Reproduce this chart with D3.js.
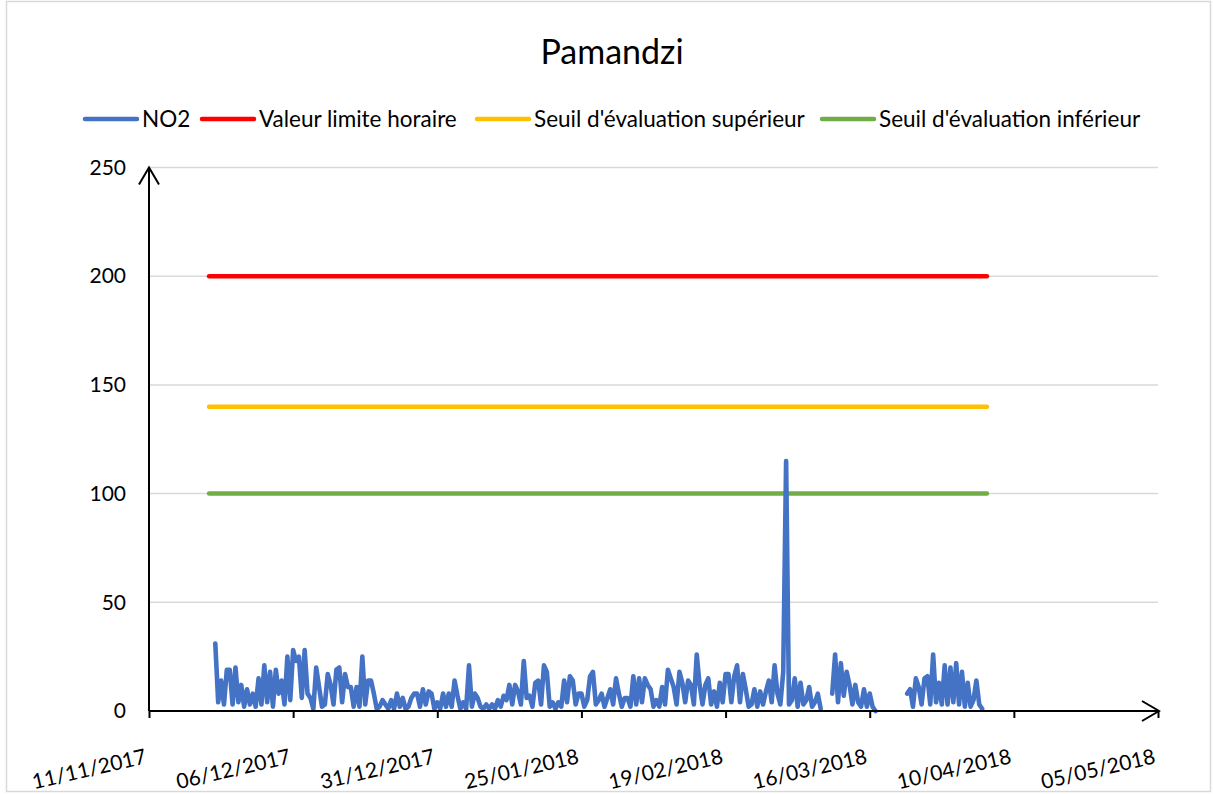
<!DOCTYPE html>
<html>
<head>
<meta charset="utf-8">
<script src="https://cdn.jsdelivr.net/npm/d3@7"></script>
<style>
  body { margin: 0; background: #fff; }
  svg text { font-family: Lato, "Open Sans", sans-serif; fill: #000; }
</style>
</head>
<body>
<svg id="chart" width="1213" height="794"></svg>
<script>

// chart data
var chartTitle = "Pamandzi";
var seriesNames = ["NO2", "Valeur limite horaire", "Seuil d'évaluation supérieur", "Seuil d'évaluation inférieur"];
var thresholdValues = [200, 140, 100];
var thresholdPeriod = ["2017-11-21T10:00", "2018-04-05T08:00"];
var xTickLabels = ["11/11/2017", "06/12/2017", "31/12/2017", "25/01/2018", "19/02/2018", "16/03/2018", "10/04/2018", "05/05/2018"];
var yTickValues = [0, 50, 100, 150, 200, 250];

// NO2 readings, one every 12 hours from the start date (null = no measurement)
var no2Start = "2017-11-22T12:00";
var no2StepHours = 12;
var no2Values = [
  31, 4, 14, 3, 19, 19, 3, 20, 4, 12,
  2, 10, 3, 8, 2, 15, 3, 21, 4, 18,
  2, 19, 8, 14, 3, 25, 5, 28, 23, 25,
  6, 28, 8, 6, 1, 20, 11, 2, 3, 17,
  12, 3, 19, 20, 4, 17, 11, 11, 2, 11,
  2, 25, 3, 14, 14, 8, 1, 2, 5, 3,
  1, 5, 1, 8, 2, 6, 1, 2, 6, 8,
  8, 2, 10, 3, 9, 8, 1, 4, 1, 8,
  2, 8, 2, 14, 7, 1, 4, 1, 21, 2,
  8, 6, 2, 1, 3, 1, 3, 1, 5, 2,
  7, 5, 12, 3, 12, 9, 3, 23, 6, 7,
  2, 13, 14, 3, 21, 18, 2, 4, 1, 4,
  2, 14, 4, 16, 14, 3, 8, 8, 2, 5,
  16, 18, 3, 5, 8, 2, 6, 10, 3, 15,
  8, 2, 6, 6, 2, 16, 3, 15, 4, 15,
  12, 10, 2, 5, 2, 11, 3, 19, 15, 11,
  3, 18, 13, 4, 14, 12, 3, 26, 12, 3,
  12, 15, 3, 9, 2, 13, 4, 17, 17, 4,
  16, 21, 4, 17, 10, 2, 3, 10, 2, 9,
  3, 9, 14, 4, 21, 8, 3, 18, 115, 3,
  5, 15, 2, 13, 3, 5, 11, 2, 4, 8,
  1, null, null, null, 8, 26, 4, 22, 7, 18,
  12, 3, 12, 4, 2, 10, 2, 8, 2, 0,
  null, null, null, null, null, null, null, null, null, null,
  8, 10, 2, 15, 11, 3, 15, 16, 3, 26,
  4, 13, 3, 21, 3, 20, 4, 22, 3, 18,
  2, 13, 2, 5, 14, 3, 1
];

// styles
var seriesColors = ["#4472C4", "#FF0000", "#FFC000", "#70AD47"];

var svg = d3.select("#chart");
var parseDay = d3.utcParse("%d/%m/%Y");
var parseTime = d3.utcParse("%Y-%m-%dT%H:%M");
var fmtDay = d3.utcFormat("%d/%m/%Y");

var plot = {left: 149, right: 1158, top: 167.5, bottom: 711};

var x = d3.scaleUtc()
    .domain([parseDay(xTickLabels[0]), parseDay(xTickLabels[xTickLabels.length - 1])])
    .range([plot.left, plot.right]);

var y = d3.scaleLinear()
    .domain([0, 250])
    .range([plot.bottom, plot.top]);

// outer border
svg.append("rect")
    .attr("x", 6.5).attr("y", 1.5)
    .attr("width", 1204).attr("height", 790)
    .attr("fill", "none")
    .attr("stroke", "#d9d9d9")
    .attr("stroke-width", 1.5);

// title
svg.append("text")
    .attr("x", 612).attr("y", 64)
    .attr("text-anchor", "middle")
    .style("font-size", "34px")
    .text(chartTitle);

// gridlines
svg.append("g").selectAll("line")
    .data(yTickValues.filter(function(v){ return v > 0; }))
    .enter().append("line")
    .attr("x1", plot.left).attr("x2", plot.right)
    .attr("y1", function(d){ return y(d); })
    .attr("y2", function(d){ return y(d); })
    .attr("stroke", "#d9d9d9")
    .attr("stroke-width", 1.5);

// threshold lines
var tStart = parseTime(thresholdPeriod[0]), tEnd = parseTime(thresholdPeriod[1]);
svg.append("g").selectAll("line")
    .data(thresholdValues)
    .enter().append("line")
    .attr("x1", x(tStart)).attr("x2", x(tEnd))
    .attr("y1", function(d){ return y(d); })
    .attr("y2", function(d){ return y(d); })
    .attr("stroke", function(d, i){ return seriesColors[i + 1]; })
    .attr("stroke-width", 4.5)
    .attr("stroke-linecap", "round");

// NO2 series
var t0 = parseTime(no2Start);
var no2Data = no2Values.map(function(v, i){
    return {date: d3.utcHour.offset(t0, i * no2StepHours), value: v};
});

var line = d3.line()
    .defined(function(d){ return d.value !== null; })
    .x(function(d){ return x(d.date); })
    .y(function(d){ return y(d.value); });

svg.append("path")
    .datum(no2Data)
    .attr("d", line)
    .attr("fill", "none")
    .attr("stroke", seriesColors[0])
    .attr("stroke-width", 4.6)
    .attr("stroke-linejoin", "round")
    .attr("stroke-linecap", "round");

// x axis
var xAxis = d3.axisBottom(x)
    .tickValues(xTickLabels.map(parseDay))
    .tickFormat(fmtDay)
    .tickSizeInner(7)
    .tickSizeOuter(0);

var gx = svg.append("g")
    .attr("transform", "translate(0," + plot.bottom + ")")
    .call(xAxis);
gx.select(".domain").remove();
gx.selectAll(".tick line").attr("stroke", "#000").attr("stroke-width", 2);
gx.selectAll(".tick text")
    .attr("x", 0).attr("y", 0).attr("dy", 0)
    .attr("text-anchor", "end")
    .attr("transform", "translate(-2,52) rotate(-13)")
    .style("font-size", "21px");

// y axis labels
var gy = svg.append("g")
    .attr("transform", "translate(" + plot.left + ",0)")
    .call(d3.axisLeft(y).tickValues(yTickValues).tickSize(0).tickPadding(23));
gy.select(".domain").remove();
gy.selectAll(".tick text").style("font-size", "21px");

// axis lines with open arrow heads
var axes = svg.append("g").attr("stroke", "#000").attr("stroke-width", 2).attr("fill", "none");
axes.append("line")
    .attr("x1", plot.left).attr("y1", plot.bottom)
    .attr("x2", plot.right + 1).attr("y2", plot.bottom);
axes.append("path")
    .attr("d", "M" + (plot.right - 16) + "," + (plot.bottom - 10) + "L" + (plot.right + 1) + "," + plot.bottom + "L" + (plot.right - 16) + "," + (plot.bottom + 10));
axes.append("line")
    .attr("x1", plot.left).attr("y1", plot.bottom)
    .attr("x2", plot.left).attr("y2", plot.top);
axes.append("path")
    .attr("d", "M" + (plot.left - 10) + "," + (plot.top + 17) + "L" + plot.left + "," + plot.top + "L" + (plot.left + 10) + "," + (plot.top + 17));

// legend
var legendX = [85, 202, 477, 822];
var legend = svg.append("g").selectAll("g")
    .data(seriesNames)
    .enter().append("g")
    .attr("transform", function(d, i){ return "translate(" + legendX[i] + ",119)"; });
legend.append("line")
    .attr("x1", 0).attr("x2", 52)
    .attr("stroke", function(d, i){ return seriesColors[i]; })
    .attr("stroke-width", 4.5)
    .attr("stroke-linecap", "round");
legend.append("text")
    .attr("x", 57).attr("y", 8)
    .style("font-size", "22.5px")
    .text(function(d){ return d; });

</script>
</body>
</html>
